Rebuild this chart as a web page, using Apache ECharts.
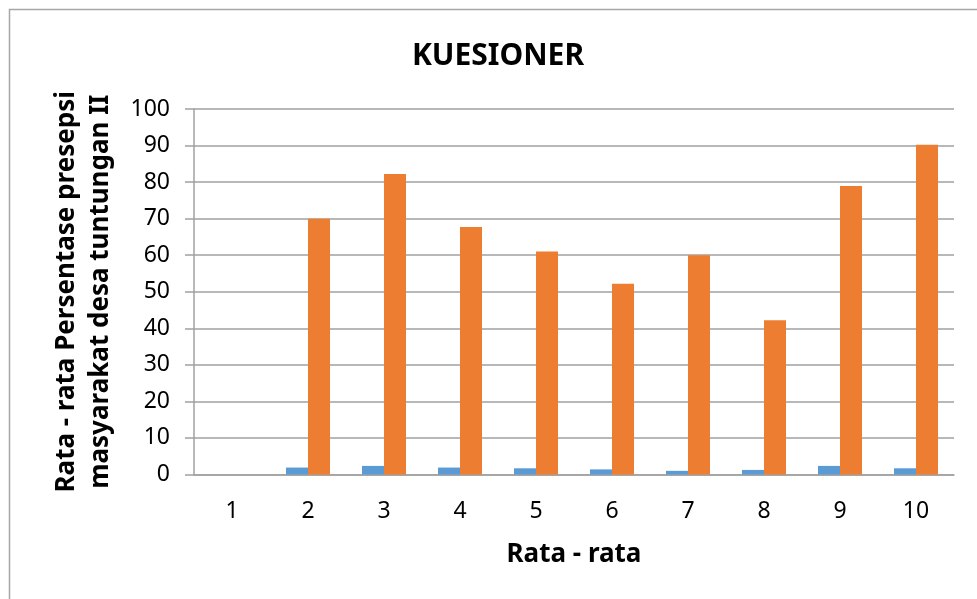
<!DOCTYPE html>
<html>
<head>
<meta charset="utf-8">
<script src="https://cdn.jsdelivr.net/npm/echarts@6/dist/echarts.min.js"></script>
<style>
html,body{margin:0;padding:0;background:#fff;}
#chart{width:977px;height:599px;}
</style>
</head>
<body>
<div id="chart"></div>
<script>
const chartTitle = 'KUESIONER';
const categories = ['1', '2', '3', '4', '5', '6', '7', '8', '9', '10'];
const seriesBlue = [0, 1.9, 2.35, 1.9, 1.7, 1.4, 1.0, 1.25, 2.35, 1.7];
const seriesOrange = [0, 70, 82.2, 67.7, 61, 52.2, 60, 42.2, 78.9, 90.2];
const yTicks = { min: 0, max: 100, interval: 10 };
const xAxisName = 'Rata - rata';
const yAxisName = 'Rata - rata Persentase presepsi\nmasyarakat desa tuntungan II';

const FONT = '"Noto Sans", "Open Sans", sans-serif';
const chart = echarts.init(document.getElementById('chart'), null, { renderer: 'canvas' });
chart.setOption({
  animation: false,
  backgroundColor: '#ffffff',
  graphic: [
    {
      type: 'rect',
      shape: { x: 9.5, y: 9.5, width: 1200, height: 800 },
      style: { fill: 'none', stroke: '#a6a6a6', lineWidth: 1.5 },
      silent: true
    },
    {
      type: 'text',
      x: 498, y: 56,
      style: {
        text: chartTitle, font: 'bold 30px ' + FONT, fill: '#000',
        align: 'center', verticalAlign: 'middle'
      }
    }
  ],
  grid: { left: 194, right: 23, top: 109, bottom: 124.5 },
  xAxis: {
    type: 'category',
    data: categories,
    name: xAxisName,
    nameLocation: 'middle',
    nameGap: 67,
    nameTextStyle: { fontFamily: FONT, fontWeight: 'bold', fontSize: 26, color: '#000' },
    axisLine: { lineStyle: { color: '#a0a0a0', width: 1.5 } },
    axisTick: { show: false },
    axisLabel: { fontFamily: FONT, fontSize: 23, color: '#000', margin: 25 },
    splitLine: { show: false }
  },
  yAxis: {
    type: 'value',
    min: yTicks.min, max: yTicks.max, interval: yTicks.interval,
    name: yAxisName,
    nameLocation: 'middle',
    nameRotate: 90,
    nameGap: 76,
    nameTextStyle: { fontFamily: FONT, fontWeight: 'bold', fontSize: 26, color: '#000', lineHeight: 34, align: 'center' },
    axisLine: { show: true, lineStyle: { color: '#a0a0a0', width: 1.5 } },
    axisTick: { show: true, length: 9, lineStyle: { color: '#a0a0a0', width: 1.5 } },
    axisLabel: { fontFamily: FONT, fontSize: 23, color: '#000', margin: 24 },
    splitLine: { show: true, lineStyle: { color: '#a0a0a0', width: 1.5 } }
  },
  series: [
    {
      name: 'A', type: 'bar', data: seriesBlue, barWidth: 22, barGap: '0%',
      itemStyle: { color: '#5b9bd5' }
    },
    {
      name: 'B', type: 'bar', data: seriesOrange, barWidth: 22, barGap: '0%',
      itemStyle: { color: '#ed7d31' }
    }
  ]
});
</script>
</body>
</html>
